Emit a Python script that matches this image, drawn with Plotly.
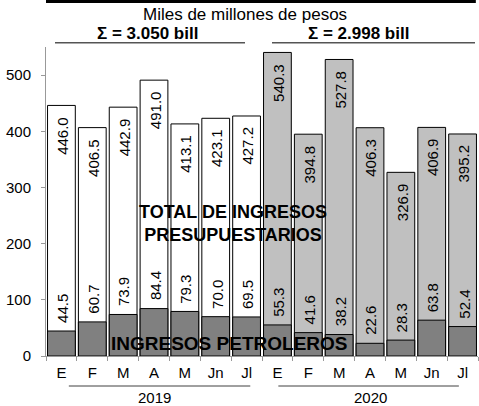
import plotly.graph_objects as go

months = ["E", "F", "M", "A", "M", "Jn", "Jl", "E", "F", "M", "A", "M", "Jn", "Jl"]
years = ["2019", "2020"]
total = [446.0, 406.5, 442.9, 491.0, 413.1, 423.1, 427.2,
         540.3, 394.8, 527.8, 406.3, 326.9, 406.9, 395.2]
petroleros = [44.5, 60.7, 73.9, 84.4, 79.3, 70.0, 69.5,
              55.3, 41.6, 38.2, 22.6, 28.3, 63.8, 52.4]
sums = ["Σ = 3.050 bill", "Σ = 2.998 bill"]
unit_label = "Miles de millones de pesos"
total_label = "TOTAL DE INGRESOS<br>PRESUPUESTARIOS"
petro_label = "INGRESOS PETROLEROS"

W, H = 479, 406
L, R, T, B = 46, 1, 47, 50
PW, PH = W - L - R, H - T - B

def px(x):
    return (x - L) / PW

def py(y):
    return (H - B - y) / PH

FONT = "Liberation Sans, Arial, sans-serif"
xs = list(range(len(months)))
total_colors = ["#ffffff"] * 7 + ["#c0c0c0"] * 7

fig = go.Figure()
fig.add_trace(go.Bar(x=xs, y=total, width=0.9,
                     marker=dict(color=total_colors, line=dict(color="#000000", width=1)),
                     hoverinfo="skip"))
fig.add_trace(go.Bar(x=xs, y=petroleros, width=0.9,
                     marker=dict(color="#808080", line=dict(color="#000000", width=1)),
                     hoverinfo="skip"))

ann = []
for i, v in enumerate(total):
    ann.append(dict(x=i, y=v, xref="x", yref="y", text=f"{v:.1f}", showarrow=False,
                    textangle=-90, yanchor="top", yshift=-9, xshift=1,
                    font=dict(size=15, color="#000", family=FONT)))
for i, v in enumerate(petroleros):
    ann.append(dict(x=i, y=v, xref="x", yref="y", text=f"{v:.1f}", showarrow=False,
                    textangle=-90, yanchor="bottom", yshift=6, xshift=1,
                    font=dict(size=15, color="#000", family=FONT)))

ann.append(dict(x=px(233), y=py(223.5), xref="paper", yref="paper",
                text="<b>" + total_label.replace("<br>", "</b><br><b>") + "</b>",
                showarrow=False, font=dict(size=18, color="#000", family=FONT),
                xanchor="center", yanchor="middle"))
ann.append(dict(x=px(229), y=py(343.5), xref="paper", yref="paper", text=f"<b>{petro_label}</b>",
                showarrow=False, font=dict(size=19, color="#000", family=FONT),
                xanchor="center", yanchor="middle"))

ann.append(dict(x=px(245), y=py(14), xref="paper", yref="paper", text=unit_label,
                showarrow=False, font=dict(size=17, color="#000", family=FONT),
                xanchor="center", yanchor="middle"))
for cx, s in zip([147, 358], sums):
    ann.append(dict(x=px(cx), y=py(33.5), xref="paper", yref="paper", text=f"<b>{s}</b>",
                    showarrow=False, font=dict(size=17, color="#000", family=FONT),
                    xanchor="center", yanchor="middle"))
for cx, s in zip([3, 10], years):
    ann.append(dict(x=cx, y=py(397.5), xref="x", yref="paper", text=s,
                    showarrow=False, font=dict(size=15, color="#000", family=FONT),
                    xanchor="center", yanchor="middle"))

shapes = [
    dict(type="line", xref="paper", yref="paper", x0=px(55), x1=px(245), y0=py(42.7), y1=py(42.7),
         line=dict(color="#555555", width=1.5)),
    dict(type="line", xref="paper", yref="paper", x0=px(272), x1=px(475), y0=py(42.7), y1=py(42.7),
         line=dict(color="#555555", width=1.5)),
    dict(type="line", xref="x", yref="paper", x0=0.24, x1=6.12, y0=py(386), y1=py(386),
         line=dict(color="#404040", width=1)),
    dict(type="line", xref="x", yref="paper", x0=7.03, x1=12.88, y0=py(386), y1=py(386),
         line=dict(color="#404040", width=1)),
    dict(type="line", xref="x", yref="paper", x0=-1.1, x1=13.43, y0=py(1.5), y1=py(1.5),
         line=dict(color="#000000", width=3)),
]

fig.update_layout(
    width=W, height=H,
    margin=dict(l=L, r=R, t=T, b=B),
    paper_bgcolor="white", plot_bgcolor="white",
    barmode="overlay", bargap=0.1, showlegend=False,
    font=dict(family=FONT, size=15, color="#000"),
    annotations=ann, shapes=shapes,
    xaxis=dict(range=[-0.5, 13.5], tickmode="array", tickvals=xs, ticktext=months,
               ticks="", showline=True, linecolor="#999999", linewidth=1,
               showgrid=False, zeroline=False, tickfont=dict(size=15),
               ticklabelstandoff=3,
               minor=dict(tick0=-0.5, dtick=1, ticks="outside", ticklen=4,
                          tickcolor="#999999", showgrid=False)),
    yaxis=dict(range=[0, 550], tickvals=[0, 100, 200, 300, 400, 500],
               ticks="outside", ticklen=4, tickcolor="#999999",
               showline=True, linecolor="#999999", linewidth=1,
               showgrid=False, zeroline=False, tickfont=dict(size=15),
               ticklabelstandoff=7),
)

fig.write_html("out.html", config={"displayModeBar": False},
               post_script="document.body.style.margin='0px';document.body.style.overflow='hidden';")
